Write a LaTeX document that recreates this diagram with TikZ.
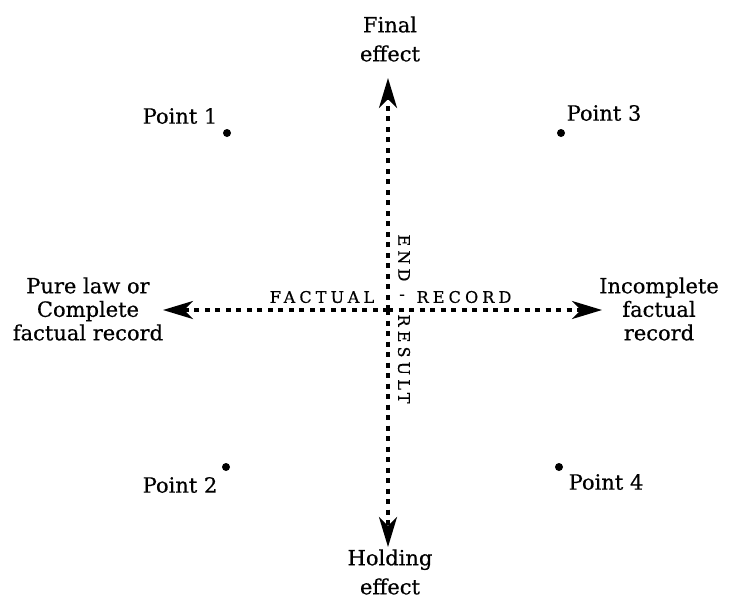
\documentclass[tikz,border=0pt]{standalone}
\usepackage{fontspec}
\setmainfont{DejaVu Serif}[FakeBold=0.5]
\usetikzlibrary{arrows.meta}
\tikzset{
  axis/.style={line width=3.4pt, dash pattern=on 5pt off 5.5pt, -{Stealth[length=30pt,width=18pt,inset=9pt]}},
  lbl/.style={font=\fontsize{21}{23.5}\selectfont, align=center, inner sep=0pt},
  lblwide/.style={font=\fontsize{21}{29}\selectfont, align=center, inner sep=0pt},
  dotpt/.style={circle, fill=black, inner sep=0pt, minimum size=8pt},
  axtxt/.style={font=\fontsize{16}{16}\selectfont\addfontfeature{LetterSpace=26}, inner sep=0pt}
}
\begin{document}
\begin{tikzpicture}[x=1pt,y=-1pt]
\useasboundingbox (0,0) rectangle (738,600);
\coordinate (c) at (388,310);
\coordinate (tipL) at (163,310);
\coordinate (tipR) at (602,310);
\coordinate (tipT) at (388,78);
\coordinate (tipB) at (388,547);
\draw[axis] (c) -- (tipL);
\draw[axis] (c) -- (tipR);
\draw[axis] (c) -- (tipT);
\draw[axis] (c) -- (tipB);
\node[lblwide] (fin) at (390,39) {Final\\effect};
\node[lblwide] (hold) at (390,572) {Holding\\effect};
\node[lbl] (pure) at (88,309) {Pure law or\\Complete\\factual record};
\node[lbl] (inc) at (659,309) {Incomplete\\factual\\record};
\node[dotpt] (p1) at (227,133) {};
\node[dotpt] (p3) at (561,133) {};
\node[dotpt] (p2) at (226,467) {};
\node[dotpt] (p4) at (559,467) {};
\node[lbl] (l1) at (180,116) {Point 1};
\node[lbl] (l3) at (604,113) {Point 3};
\node[lbl] (l2) at (180,485) {Point 2};
\node[lbl] (l4) at (606,482) {Point 4};
\node[axtxt] (fa) at (322,297) {FACTUAL};
\node[axtxt] (dash) at (402,297) {-};
\node[axtxt] (re) at (464,297) {RECORD};
\node[axtxt, rotate=-90] (en) at (404,258) {END};
\node[axtxt, rotate=-90] (rs) at (404,359) {RESULT};
\end{tikzpicture}
\end{document}
